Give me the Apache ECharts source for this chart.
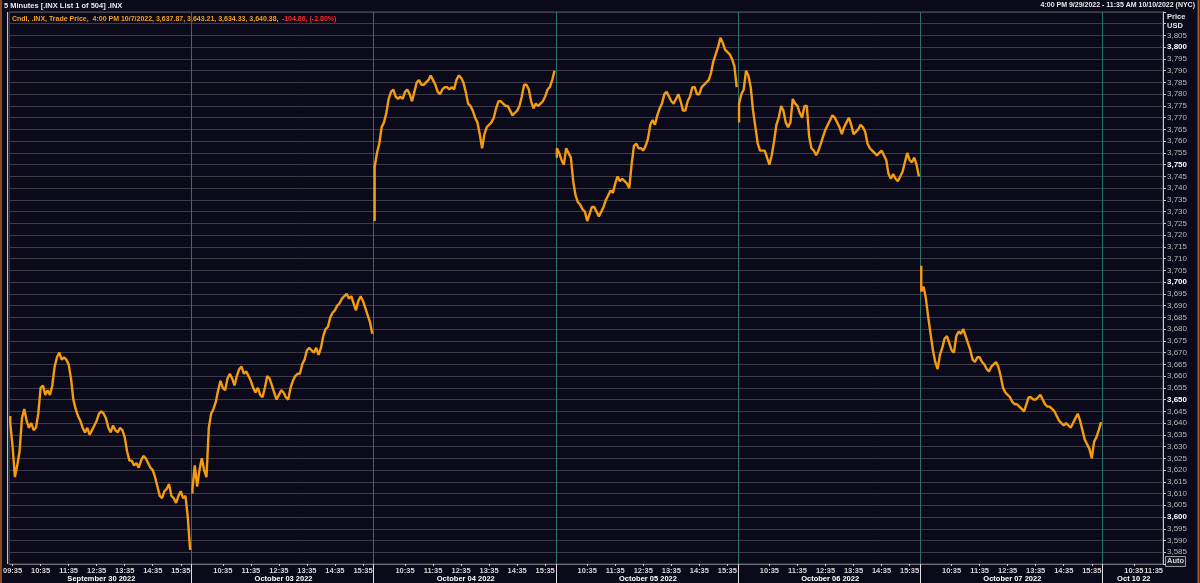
<!DOCTYPE html>
<html>
<head>
<meta charset="utf-8">
<script src="https://cdn.jsdelivr.net/npm/echarts@6/dist/echarts.min.js"></script>
<style>
  html, body { margin: 0; padding: 0; background: #0a0a1a; }
  #chart { width: 1200px; height: 583px; }
</style>
</head>
<body>
<div id="chart"></div>
<script>
// 5-minute closes of .INX (78 bars per session)
const dayNames = ['September 30 2022', 'October 03 2022', 'October 04 2022', 'October 05 2022',
  'October 06 2022', 'October 07 2022', 'Oct 10 22'];
const barsPerDay = 78;
const lastDayBars = 26; // Oct 10, 09:30 .. 11:35, nothing drawn yet

// first print of each session (bottom/top of the first bar)
const dayOpens = [3643, 3610, 3726, 3753, 3768, 3707];

const sep30 = [3640, 3630, 3617, 3622, 3628, 3642, 3646, 3641, 3638, 3640, 3637, 3638, 3644,
  3655, 3656, 3652, 3654, 3652, 3656, 3664, 3668, 3670, 3667, 3668, 3667, 3665, 3659, 3650,
  3646, 3643, 3641, 3638, 3636, 3638, 3635, 3637, 3639, 3641, 3644, 3645, 3644, 3642, 3638,
  3636, 3639, 3637, 3636, 3638, 3637, 3634, 3628, 3624, 3624, 3622, 3623, 3621, 3624, 3626,
  3625, 3623, 3621, 3620, 3617, 3613, 3609, 3608, 3611, 3612, 3614, 3609, 3608, 3606, 3609,
  3611, 3608, 3609, 3600, 3586];
const oct03 = [3612, 3622, 3613, 3620, 3625, 3620, 3617, 3638, 3644, 3646, 3649, 3654, 3658,
  3655, 3654, 3659, 3661, 3659, 3656, 3660, 3663, 3664, 3661, 3662, 3660, 3658, 3655, 3653,
  3655, 3652, 3651, 3655, 3660, 3659, 3656, 3653, 3650, 3652, 3654, 3653, 3651, 3650, 3655,
  3658, 3660, 3661, 3661, 3665, 3667, 3671, 3672, 3671, 3670, 3672, 3669, 3672, 3677, 3680,
  3681, 3685, 3687, 3688, 3690, 3691, 3693, 3694, 3695, 3693, 3694, 3691, 3688, 3692, 3694,
  3692, 3689, 3686, 3683, 3678];
const oct04 = [3749, 3755, 3759, 3766, 3768, 3772, 3778, 3781, 3782, 3779, 3778, 3779, 3778,
  3781, 3782, 3780, 3777, 3781, 3785, 3786, 3784, 3784, 3785, 3786, 3788, 3786, 3784, 3781,
  3780, 3782, 3783, 3783, 3782, 3783, 3782, 3786, 3788, 3787, 3785, 3781, 3776, 3775, 3773,
  3770, 3768, 3763, 3757, 3763, 3766, 3767, 3768, 3770, 3774, 3777, 3777, 3776, 3775, 3775,
  3773, 3771, 3772, 3773, 3775, 3779, 3784, 3784, 3782, 3777, 3774, 3776, 3775, 3776, 3777,
  3779, 3782, 3783, 3786, 3790];
const oct05 = [3757, 3755, 3752, 3750, 3757, 3755, 3753, 3743, 3737, 3734, 3733, 3731, 3730,
  3726, 3729, 3732, 3732, 3730, 3728, 3730, 3732, 3735, 3737, 3739, 3738, 3742, 3745, 3743,
  3744, 3743, 3742, 3740, 3750, 3758, 3759, 3757, 3757, 3756, 3758, 3761, 3767, 3769, 3767,
  3771, 3774, 3776, 3780, 3781, 3779, 3777, 3776, 3778, 3780, 3777, 3773, 3773, 3777, 3779,
  3783, 3783, 3780, 3780, 3783, 3784, 3785, 3786, 3789, 3794, 3797, 3800, 3804, 3802, 3799,
  3798, 3797, 3795, 3792, 3783];
const oct06 = [3776, 3780, 3782, 3790, 3788, 3783, 3773, 3766, 3759, 3756, 3756, 3756, 3753,
  3750, 3754, 3760, 3767, 3770, 3775, 3773, 3768, 3766, 3768, 3778, 3776, 3775, 3772, 3770,
  3775, 3775, 3762, 3757, 3756, 3754, 3756, 3759, 3762, 3765, 3767, 3769, 3771, 3770, 3768,
  3766, 3763, 3766, 3768, 3770, 3767, 3763, 3764, 3765, 3767, 3766, 3764, 3759, 3757, 3756,
  3755, 3754, 3755, 3756, 3754, 3752, 3746, 3744, 3746, 3744, 3743, 3745, 3747, 3751, 3755,
  3752, 3751, 3753, 3750, 3745];
const oct07 = [3696, 3698, 3693, 3685, 3678, 3671, 3666, 3663, 3669, 3672, 3676, 3677, 3674,
  3671, 3670, 3677, 3679, 3678, 3680, 3677, 3674, 3671, 3667, 3666, 3668, 3668, 3666, 3665,
  3663, 3662, 3664, 3665, 3666, 3664, 3660, 3655, 3653, 3652, 3651, 3649, 3648, 3648, 3647,
  3646, 3645, 3648, 3651, 3651, 3650, 3650, 3651, 3652, 3650, 3648, 3647, 3647, 3646, 3645,
  3643, 3641, 3640, 3639, 3640, 3639, 3638, 3640, 3642, 3644, 3641, 3637, 3633, 3631, 3629,
  3625, 3632, 3634, 3637, 3640.38];

const sessions = [sep30, oct03, oct04, oct05, oct06, oct07];
const lastClose = oct07[oct07.length - 1];

// category slots: 5-minute bars from 09:30
const times = [];
const slotDay = [];
const dayStarts = [];
dayNames.forEach(function (d, di) {
  const n = di === dayNames.length - 1 ? lastDayBars : barsPerDay;
  if (di > 0) dayStarts.push(times.length);
  for (let s = 0; s < n; s++) {
    const m = 9 * 60 + 30 + s * 5;
    const hh = Math.floor(m / 60), mm = m % 60;
    times.push((hh < 10 ? '0' : '') + hh + ':' + (mm < 10 ? '0' : '') + mm);
    slotDay.push(d);
  }
});

const FONT = '"Liberation Sans", Arial, sans-serif';
const ORANGE = '#f49b10';

// hour labels; the very last slot (11:35 on Oct 10) is right-aligned separately
function showTime(i) {
  const t = times[i];
  if (i === times.length - 1) return false;
  if (t === '09:35') return i === 1;
  return t.slice(3) === '35';
}
function isDayMid(i) {
  const s = i % barsPerDay;
  if (i >= barsPerDay * (dayNames.length - 1)) return s === 13;
  return s === 39;
}
function fmtNum(v) {
  return v.toLocaleString('en-US', { minimumFractionDigits: 0, maximumFractionDigits: 2 });
}

// one line per session so the overnight gaps stay open
const series = sessions.map(function (vals, di) {
  const off = di * barsPerDay;
  const pts = [[off, dayOpens[di]]];
  vals.forEach(function (v, k) { pts.push([off + k, v]); });
  const s = {
    type: 'line',
    data: pts,
    xAxisIndex: 0,
    showSymbol: false,
    z: 5,
    lineStyle: { color: ORANGE, width: 2.4 }
  };
  if (di === sessions.length - 1) {
    s.markLine = {
      silent: true,
      symbol: 'none',
      lineStyle: { opacity: 0 },
      data: [{ yAxis: lastClose }],
      label: {
        show: true,
        position: 'end',
        distance: 1,
        formatter: function () { return fmtNum(lastClose); },
        backgroundColor: '#f7a01c',
        color: '#2a1600',
        fontSize: 7.5,
        fontFamily: FONT,
        padding: [2, 2, 1, 2]
      }
    };
  }
  return s;
});

// session separators at the band edge in front of each new day (teal in the plot, white tick below)
series.push({
  type: 'custom',
  xAxisIndex: 0,
  silent: true,
  z: 4,
  clip: false,
  encode: { x: 0, y: 1 },
  data: dayStarts.map(function (i) { return [i, 3700]; }),
  renderItem: function (params, api) {
    const half = api.size([1, 0])[0] / 2;
    const x = Math.round(api.coord([api.value(0), api.value(1)])[0] - half) + 0.5;
    const cs = params.coordSys;
    const bottom = cs.y + cs.height;
    return {
      type: 'group',
      children: [
        { type: 'line', shape: { x1: x, y1: cs.y, x2: x, y2: bottom }, style: { stroke: '#2e716c', lineWidth: 1 } },
        { type: 'line', shape: { x1: x, y1: bottom, x2: x, y2: bottom + 19 }, style: { stroke: '#e0e0e0', lineWidth: 1 } }
      ]
    };
  }
});

const chart = echarts.init(document.getElementById('chart'));
chart.setOption({
  backgroundColor: '#0a0a1a',
  animation: false,
  grid: { left: 8, right: 37, top: 12, bottom: 19, show: true, borderColor: '#5a5a62', borderWidth: 1 },
  xAxis: [{
    type: 'category',
    data: times,
    boundaryGap: true,
    axisLine: { lineStyle: { color: '#6e6e74' } },
    axisTick: { show: true, alignWithLabel: true, interval: showTime, length: 2, lineStyle: { color: '#d0d0d0' } },
    axisLabel: { interval: showTime, color: '#d6d6d6', fontSize: 7.5, fontWeight: 'bold', fontFamily: FONT, margin: 3 },
    splitLine: { show: false }
  }, {
    type: 'category',
    data: slotDay,
    position: 'bottom',
    offset: 0,
    boundaryGap: true,
    axisLine: { show: false },
    axisTick: { show: false },
    axisLabel: { interval: isDayMid, color: '#ffffff', fontSize: 7.5, fontWeight: 'bold', fontFamily: FONT, margin: 11 },
    splitLine: { show: false }
  }],
  yAxis: {
    type: 'value',
    position: 'right',
    min: 3580,
    max: 3815,
    interval: 5,
    axisLine: { show: true, lineStyle: { color: '#c8c8c8' } },
    axisTick: { show: true, length: 3, lineStyle: { color: '#c8c8c8' } },
    splitLine: { show: true, lineStyle: { color: '#3d3d49', width: 1 } },
    axisLabel: {
      margin: 4,
      fontFamily: FONT,
      formatter: function (v) {
        if (v < 3585 || v > 3805) return '';
        const s = fmtNum(v);
        return v % 50 === 0 ? '{b|' + s + '}' : '{n|' + s + '}';
      },
      rich: {
        b: { color: '#ffffff', fontSize: 8, fontWeight: 'bold', fontFamily: FONT },
        n: { color: '#b8b8b8', fontSize: 8, fontFamily: FONT }
      }
    }
  },
  series: series,
  graphic: [
    { type: 'text', left: 4, top: 2, style: { text: '5 Minutes [.INX List 1 of 504] .INX', fill: '#e8e8e8', font: 'bold 7.5px ' + FONT } },
    { type: 'text', left: 12, top: 13, style: {
      text: '{o|Cndl, .INX, Trade Price,  4:00 PM 10/7/2022, 3,637.87, 3,643.21, 3,634.33, 3,640.38,} {r|-104.86, (-2.80%)}',
      rich: {
        o: { fill: '#f5a020', font: 'bold 7px ' + FONT },
        r: { fill: '#ff2a2a', font: 'bold 7px ' + FONT }
      }
    } },
    { type: 'text', right: 5, top: 2, style: { text: '4:00 PM 9/29/2022 - 11:35 AM 10/10/2022 (NYC)', fill: '#e8e8e8', font: 'bold 7px ' + FONT } },
    { type: 'text', right: 37, top: 567, style: { text: '11:35', fill: '#d6d6d6', font: 'bold 7.5px ' + FONT } },
    { type: 'text', left: 1167, top: 13, style: { text: 'Price', fill: '#e8e8e8', font: 'bold 7.5px ' + FONT } },
    { type: 'text', left: 1167, top: 22, style: { text: 'USD', fill: '#e8e8e8', font: 'bold 7.5px ' + FONT } },
    { type: 'rect', left: 1165, top: 556, shape: { width: 20, height: 10 }, style: { fill: '#1a1a26', stroke: '#9a9aa0', lineWidth: 1 } },
    { type: 'text', left: 1167, top: 557, style: { text: 'Auto', fill: '#d0d0d0', font: 'bold 7.5px ' + FONT } },
    { type: 'line', shape: { x1: 1, y1: 0, x2: 1, y2: 583 }, style: { stroke: '#8a4a2a', lineWidth: 2 } },
    { type: 'line', shape: { x1: 1198.5, y1: 0, x2: 1198.5, y2: 583 }, style: { stroke: '#a0582a', lineWidth: 2 } },
    { type: 'line', shape: { x1: 7.5, y1: 12, x2: 7.5, y2: 564 }, style: { stroke: '#b8c8c8', lineWidth: 1 } }
  ]
});
</script>
</body>
</html>
